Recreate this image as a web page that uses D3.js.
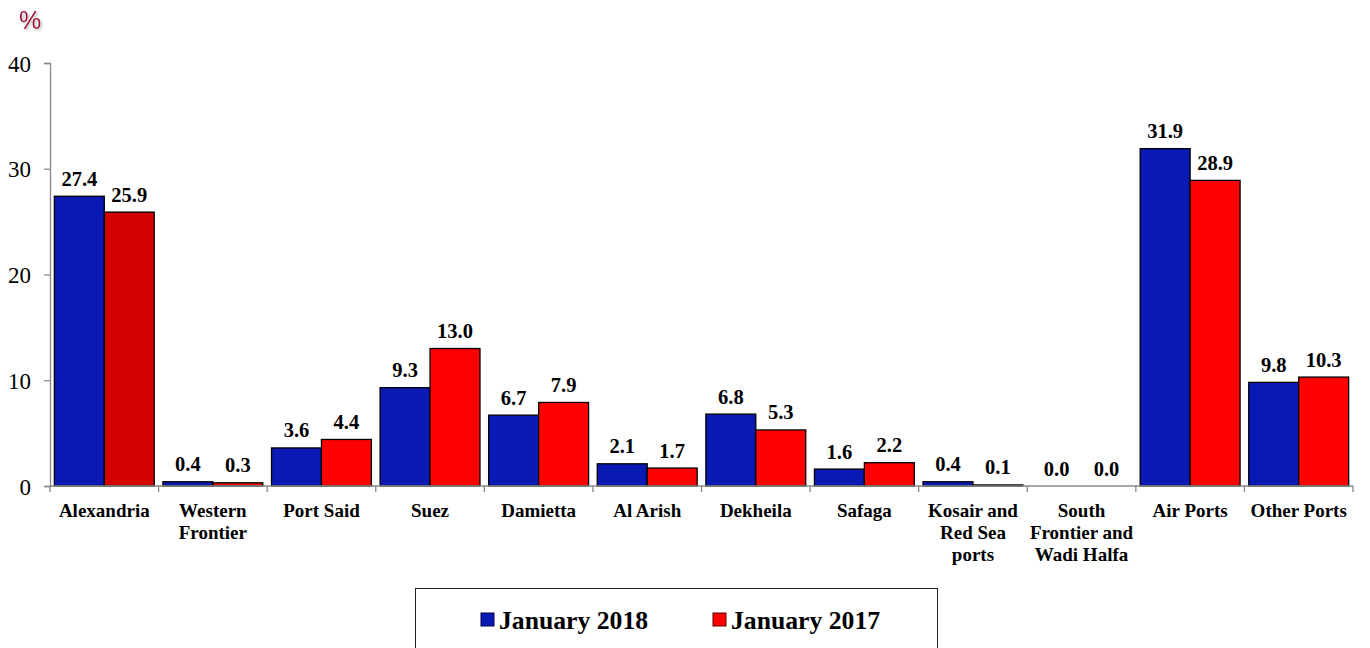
<!DOCTYPE html>
<html><head><meta charset="utf-8">
<script src="https://cdn.jsdelivr.net/npm/d3@7"></script>
<style>body{margin:0;background:#fff;}svg{display:block;}
.serif{font-family:"Liberation Serif","Times New Roman",Times,"DejaVu Serif","Noto Serif",serif;}
</style>
</head><body>
<svg id="c" width="1370" height="648"></svg>
<script>
const categories = [["Alexandria"],["Western","Frontier"],["Port Said"],["Suez"],["Damietta"],["Al Arish"],["Dekheila"],["Safaga"],["Kosair and","Red Sea","ports"],["South","Frontier and","Wadi Halfa"],["Air Ports"],["Other Ports"]];
const series2018 = [27.4,0.4,3.6,9.3,6.7,2.1,6.8,1.6,0.4,0.0,31.9,9.8];
const series2017 = [25.9,0.3,4.4,13.0,7.9,1.7,5.3,2.2,0.1,0.0,28.9,10.3];
const seriesNames = ["January 2018","January 2017"];
const yTicks = [0,10,20,30,40];

const svg = d3.select("#c");
const x0 = 50, x1 = 1353, yTop = 63, yBot = 486;
const keys = categories.map((c,i)=>i);
const x = d3.scaleBand().domain(keys).range([x0,x1]).paddingInner(0.08).paddingOuter(0.04);
const xs = d3.scaleBand().domain([0,1]).range([0,x.bandwidth()]);
const y = d3.scaleLinear().domain([0,40]).range([yBot,yTop]);
const colors = ["#0a19b4","#ff0000"];

const data = [series2018, series2017];
data.forEach((s,si)=>{
  svg.append("g").selectAll("rect").data(s).join("rect")
    .attr("x",(d,i)=>x(i)+xs(si))
    .attr("y",d=>y(d))
    .attr("width",xs.bandwidth())
    .attr("height",d=>yBot-y(d))
    .attr("fill",(d,i)=> (si===1 && i===0) ? "#d40000" : colors[si])
    .attr("stroke","#000").attr("stroke-width",1.3);
  svg.append("g").selectAll("text").data(s).join("text")
    .attr("class","serif")
    .attr("x",(d,i)=>x(i)+xs(si)+xs.bandwidth()/2)
    .attr("y",d=>y(d)-10.5)
    .attr("text-anchor","middle")
    .style("font-weight","bold").style("font-size","20.5px")
    .text(d=>d.toFixed(1));
});

const yAxis = d3.axisLeft(y).tickValues(yTicks).tickSize(6).tickPadding(13).tickFormat(d3.format("d"));
const gy = svg.append("g").attr("transform",`translate(${x0},0)`).call(yAxis);
gy.attr("font-family",null).attr("font-size",null);
gy.select(".domain").attr("stroke","#888").attr("stroke-width",1.3);
gy.selectAll(".tick line").attr("stroke","#888").attr("stroke-width",1.3);
gy.selectAll("text").attr("class","serif").style("font-size","23px").attr("fill","#000").attr("dy","0.35em");

const gx = svg.append("g");
gx.append("line").attr("x1",x0).attr("x2",x1).attr("y1",yBot).attr("y2",yBot).attr("stroke","#888").attr("stroke-width",1.3);
const bounds = d3.range(categories.length+1).map(i=> i<categories.length ? x(i)-x.step()*x.paddingInner()/2 : x1);
bounds[0]=x0;
gx.selectAll("line.t").data(bounds).join("line").attr("class","t")
  .attr("x1",d=>d).attr("x2",d=>d).attr("y1",yBot).attr("y2",yBot+6)
  .attr("stroke","#888").attr("stroke-width",1.3);
const lbl = gx.selectAll("text").data(categories).join("text")
  .attr("class","serif")
  .attr("text-anchor","middle")
  .style("font-weight","bold").style("font-size","19px")
  .attr("transform",(d,i)=>`translate(${x(i)+x.bandwidth()/2},${yBot+30.5})`);
lbl.selectAll("tspan").data(d=>d).join("tspan").attr("x",0).attr("dy",(d,j)=>j===0?0:22).text(d=>d);

const defs = svg.append("defs");
const f = defs.append("filter").attr("id","sh").attr("x","-50%").attr("y","-50%").attr("width","200%").attr("height","200%");
f.append("feDropShadow").attr("dx",1.5).attr("dy",1.5).attr("stdDeviation",1).attr("flood-color","#999").attr("flood-opacity",0.7);
svg.append("text").attr("x",19).attr("y",28.5).style("font-family","'Liberation Sans',Arial,sans-serif")
  .style("font-size","25px").attr("fill","#a3103c").attr("filter","url(#sh)").text("%");

svg.append("rect").attr("x",415.5).attr("y",588.5).attr("width",522).attr("height",70)
  .attr("fill","#fff").attr("stroke","#222").attr("stroke-width",1);
const legX = [481,713];
seriesNames.forEach((n,i)=>{
  svg.append("rect").attr("x",legX[i]).attr("y",613).attr("width",13).attr("height",13)
    .attr("fill",colors[i]).attr("stroke",i===0?"#000050":"#600000").attr("stroke-width",1);
  svg.append("text").attr("class","serif").attr("x",legX[i]+18).attr("y",628.5)
    .style("font-weight","bold").style("font-size","25.7px").text(n);
});
</script>
</body></html>
